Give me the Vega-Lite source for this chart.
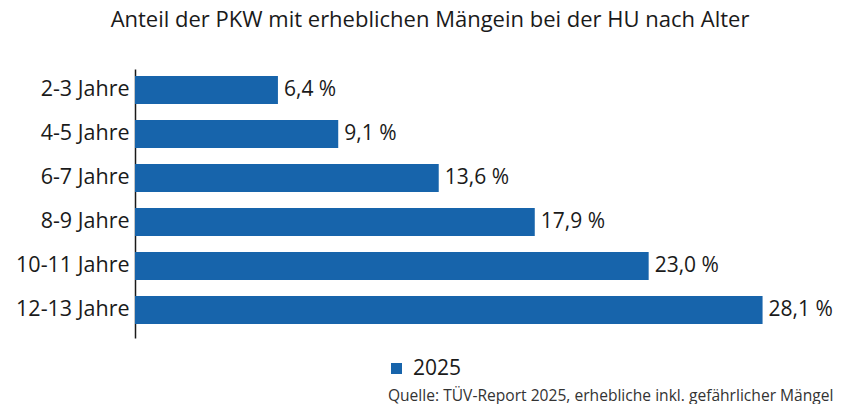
{
  "$schema": "https://vega.github.io/schema/vega-lite/v6.json",
  "autosize": {"type": "none"},
  "padding": {"left": 135, "top": 69, "right": 39, "bottom": 66},
  "width": 670,
  "height": 269,
  "title": {
    "text": "Anteil der PKW mit erheblichen Mängein bei der HU nach Alter",
    "anchor": "middle",
    "frame": "group",
    "dx": -40,
    "offset": 20,
    "baseline": "alphabetic",
    "fontSize": 22,
    "fontWeight": "normal",
    "font": "Open Sans",
    "color": "#1a1a1a"
  },
  "data": {
    "values": [
      {"Alter": "2-3 Jahre", "Anteil": 6.4, "Jahr": "2025"},
      {"Alter": "4-5 Jahre", "Anteil": 9.1, "Jahr": "2025"},
      {"Alter": "6-7 Jahre", "Anteil": 13.6, "Jahr": "2025"},
      {"Alter": "8-9 Jahre", "Anteil": 17.9, "Jahr": "2025"},
      {"Alter": "10-11 Jahre", "Anteil": 23.0, "Jahr": "2025"},
      {"Alter": "12-13 Jahre", "Anteil": 28.1, "Jahr": "2025"}
    ]
  },
  "encoding": {
    "y": {
      "field": "Alter",
      "type": "nominal",
      "sort": null,
      "scale": {"paddingInner": 0.3636, "paddingOuter": 0.2386, "align": 0.333},
      "axis": {
        "title": null,
        "ticks": false,
        "domainColor": "#1a1a1a",
        "domainWidth": 1.5,
        "labelFontSize": 21.5,
        "labelFont": "Open Sans",
        "labelColor": "#1a1a1a",
        "labelPadding": 6
      }
    },
    "x": {
      "field": "Anteil",
      "type": "quantitative",
      "scale": {"domain": [0, 30], "nice": false},
      "axis": {
        "domain": false,
        "ticks": false,
        "labels": false,
        "grid": false,
        "title": "Quelle: TÜV-Report 2025, erhebliche inkl. gefährlicher Mängel",
        "titleFont": "Open Sans",
        "titleFontSize": 15.6,
        "titleFontWeight": "normal",
        "titleColor": "#333333",
        "titleAnchor": "end",
        "titleAlign": "right",
        "titleX": 698,
        "titleY": 62,
        "titleBaseline": "alphabetic"
      }
    }
  },
  "layer": [
    {
      "mark": {"type": "bar"},
      "encoding": {
        "color": {
          "field": "Jahr",
          "type": "nominal",
          "scale": {"range": ["#1764ab"]},
          "legend": {
            "title": null,
            "orient": "none",
            "legendX": 251,
            "legendY": 289,
            "symbolType": "square",
            "symbolSize": 121,
            "labelFontSize": 21,
            "labelFont": "Open Sans",
            "labelColor": "#1a1a1a",
            "labelOffset": 6
          }
        }
      }
    },
    {
      "mark": {"type": "text", "align": "left", "dx": 6, "fontSize": 21, "font": "Open Sans", "color": "#1a1a1a"},
      "encoding": {
        "text": {"field": "Anteil", "type": "quantitative", "format": "$.1f"}
      }
    }
  ],
  "config": {
    "view": {"stroke": null},
    "locale": {
      "number": {"decimal": ",", "thousands": ".", "grouping": [3], "currency": ["", " %"]}
    }
  }
}
